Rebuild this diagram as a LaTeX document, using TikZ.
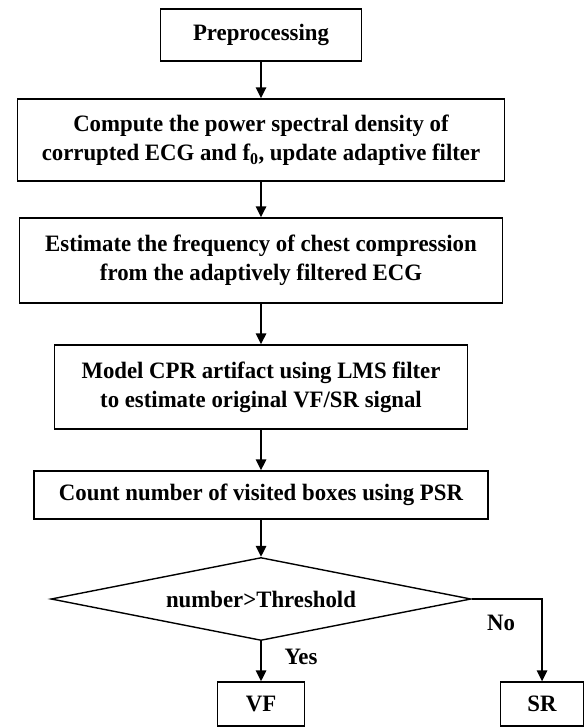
\documentclass[tikz,border=0pt]{standalone}
\usepackage{fontspec}
\setmainfont[FakeStretch=0.97]{Liberation Serif}
\usetikzlibrary{shapes.geometric,arrows.meta}
\begin{document}
\begin{tikzpicture}[x=1pt,y=-1pt,
  font=\fontsize{23.5}{29}\selectfont\bfseries,
  stepbox/.style={draw,line width=1.4pt,inner sep=0pt,align=center},
  decision/.style={draw,diamond,line width=1.4pt,inner sep=0pt,aspect=5.06,
    minimum width=420pt,minimum height=83pt},
  flow/.style={line width=1.6pt,-{Triangle[width=10.5pt,length=11pt]}},
  tag/.style={inner sep=0pt}]
\useasboundingbox (0,0) rectangle (584,727);

\node[stepbox,minimum width=201pt,minimum height=52pt] (pre) at (261,35) {Preprocessing};
\node[stepbox,minimum width=487pt,minimum height=82pt] (psd) at (261,140)
  {Compute the power spectral density of\\corrupted ECG and f\textsubscript{0}, update adaptive filter};
\node[stepbox,minimum width=483pt,minimum height=85pt] (freq) at (261,260.5)
  {Estimate the frequency of chest compression\\from the adaptively filtered ECG};
\node[stepbox,minimum width=413pt,minimum height=84pt] (lms) at (261,387)
  {Model CPR artifact using LMS filter\\to estimate original VF/SR signal};
\node[stepbox,minimum width=454pt,minimum height=48pt] (psr) at (261,495)
  {Count number of visited boxes using PSR};
\node[decision] (dec) at (261,599) {number>Threshold};
\node[stepbox,minimum width=87pt,minimum height=44pt] (vf) at (261,704) {VF};
\node[stepbox,minimum width=83pt,minimum height=44pt] (sr) at (542,704) {SR};

\draw[flow] (pre) -- (psd);
\draw[flow] (psd) -- (freq);
\draw[flow] (freq) -- (lms);
\draw[flow] (lms) -- (psr);
\draw[flow] (psr) -- (dec);
\draw[flow] (dec) -- (vf);
\draw[flow] (dec.east) -| (sr);

\node[tag] (yes) at (301,657) {Yes};
\node[tag] (no) at (501,623) {No};
\end{tikzpicture}
\end{document}
